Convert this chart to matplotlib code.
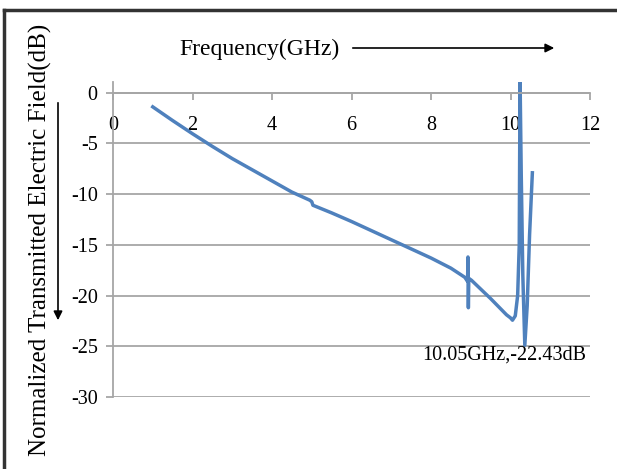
import matplotlib
matplotlib.use("Agg")
from matplotlib import pyplot as plt
from matplotlib.lines import Line2D

# Transmission response of the filter
freq = [1.0, 1.5, 2.0, 2.5, 3.0, 3.5, 4.0, 4.5, 4.95, 5.0, 5.03, 5.5, 6.0,
        6.5, 7.0, 7.5, 8.0, 8.5, 8.85, 8.92, 8.93, 8.94, 8.95, 9.02, 9.5,
        9.9, 10.0, 10.05, 10.12, 10.18, 10.22, 10.24, 10.27, 10.31, 10.36,
        10.42, 10.48, 10.55]
field = [-1.4, -2.75, -4.05, -5.3, -6.5, -7.6, -8.7, -9.8, -10.6, -10.75,
         -11.1, -11.85, -12.7, -13.6, -14.5, -15.4, -16.3, -17.3, -18.2,
         -18.6, -16.2, -21.2, -18.3, -18.5, -20.3, -21.9, -22.2, -22.43,
         -22.0, -20.0, -15.0, 1.5, -8.0, -18.0, -24.9, -21.0, -14.0, -7.9]

xticks = [0, 2, 4, 6, 8, 10, 12]
yticks = [0, -5, -10, -15, -20, -25, -30]

min_freq = 10.05
min_field = -22.43

plt.rcParams["font.family"] = ["Liberation Serif", "DejaVu Serif"]
plt.rcParams["axes.unicode_minus"] = False

W, H = 617, 469
fig = plt.figure(figsize=(W / 100, H / 100), dpi=100)
ax = fig.add_axes([113 / W, 1 - 397 / H, 477 / W, (397 - 82) / H])

grey = "#a6a6a6"
ax.plot(freq, field, color="#4f81bd", lw=2.5, solid_joinstyle="round")

ax.set_xlim(0, 12)
ax.set_ylim(-30, 1.05)
ax.set_xticks(xticks)
ax.set_xticklabels([str(v) for v in xticks])
ax.set_yticks(yticks)
ax.set_yticklabels([str(v) for v in yticks])

for s in ["top", "right"]:
    ax.spines[s].set_visible(False)
ax.spines["bottom"].set_position(("data", 0))
ax.spines["bottom"].set_color(grey)
ax.spines["left"].set_color(grey)
ax.spines["bottom"].set_linewidth(1.3)
ax.spines["left"].set_linewidth(1.3)

ax.tick_params(axis="x", direction="out", length=5, width=1.3, color=grey,
               pad=12, labelsize=14.5)
ax.tick_params(axis="y", direction="out", length=5, width=1.3, color=grey,
               pad=6, labelsize=14.5)
ax.yaxis.grid(True, color=grey, lw=1.3)
ax.set_axisbelow(True)

ax.text(9.84, -25.9, f"{min_freq:.2f}GHz,{min_field:.2f}dB", fontsize=14.5,
        ha="center", va="center")

# axis captions with direction arrows
fig.text(259 / W, 1 - 49 / H, "Frequency(GHz)", fontsize=17,
         ha="center", va="center")
ax.annotate("", xy=(557, H - 48), xytext=(350, H - 48),
            xycoords="figure pixels", textcoords="figure pixels",
            arrowprops=dict(arrowstyle="-|>", color="black", lw=1.2,
                            mutation_scale=13), annotation_clip=False)
fig.text(40 / W, 1 - 240 / H, "Normalized Transmitted Electric Field(dB)",
         fontsize=18, rotation=90, ha="center", va="center")
ax.annotate("", xy=(58, H - 323), xytext=(58, H - 100),
            xycoords="figure pixels", textcoords="figure pixels",
            arrowprops=dict(arrowstyle="-|>", color="black", lw=1.2,
                            mutation_scale=13), annotation_clip=False)

# frame lines at top and left
fig.add_artist(Line2D([4 / W, 1], [1 - 10 / H, 1 - 10 / H],
                      transform=fig.transFigure, color="#333333", lw=2.5))
fig.add_artist(Line2D([4 / W, 4 / W], [0, 1 - 10 / H],
                      transform=fig.transFigure, color="#333333", lw=2.5))

fig.savefig("out.png", dpi=100)
